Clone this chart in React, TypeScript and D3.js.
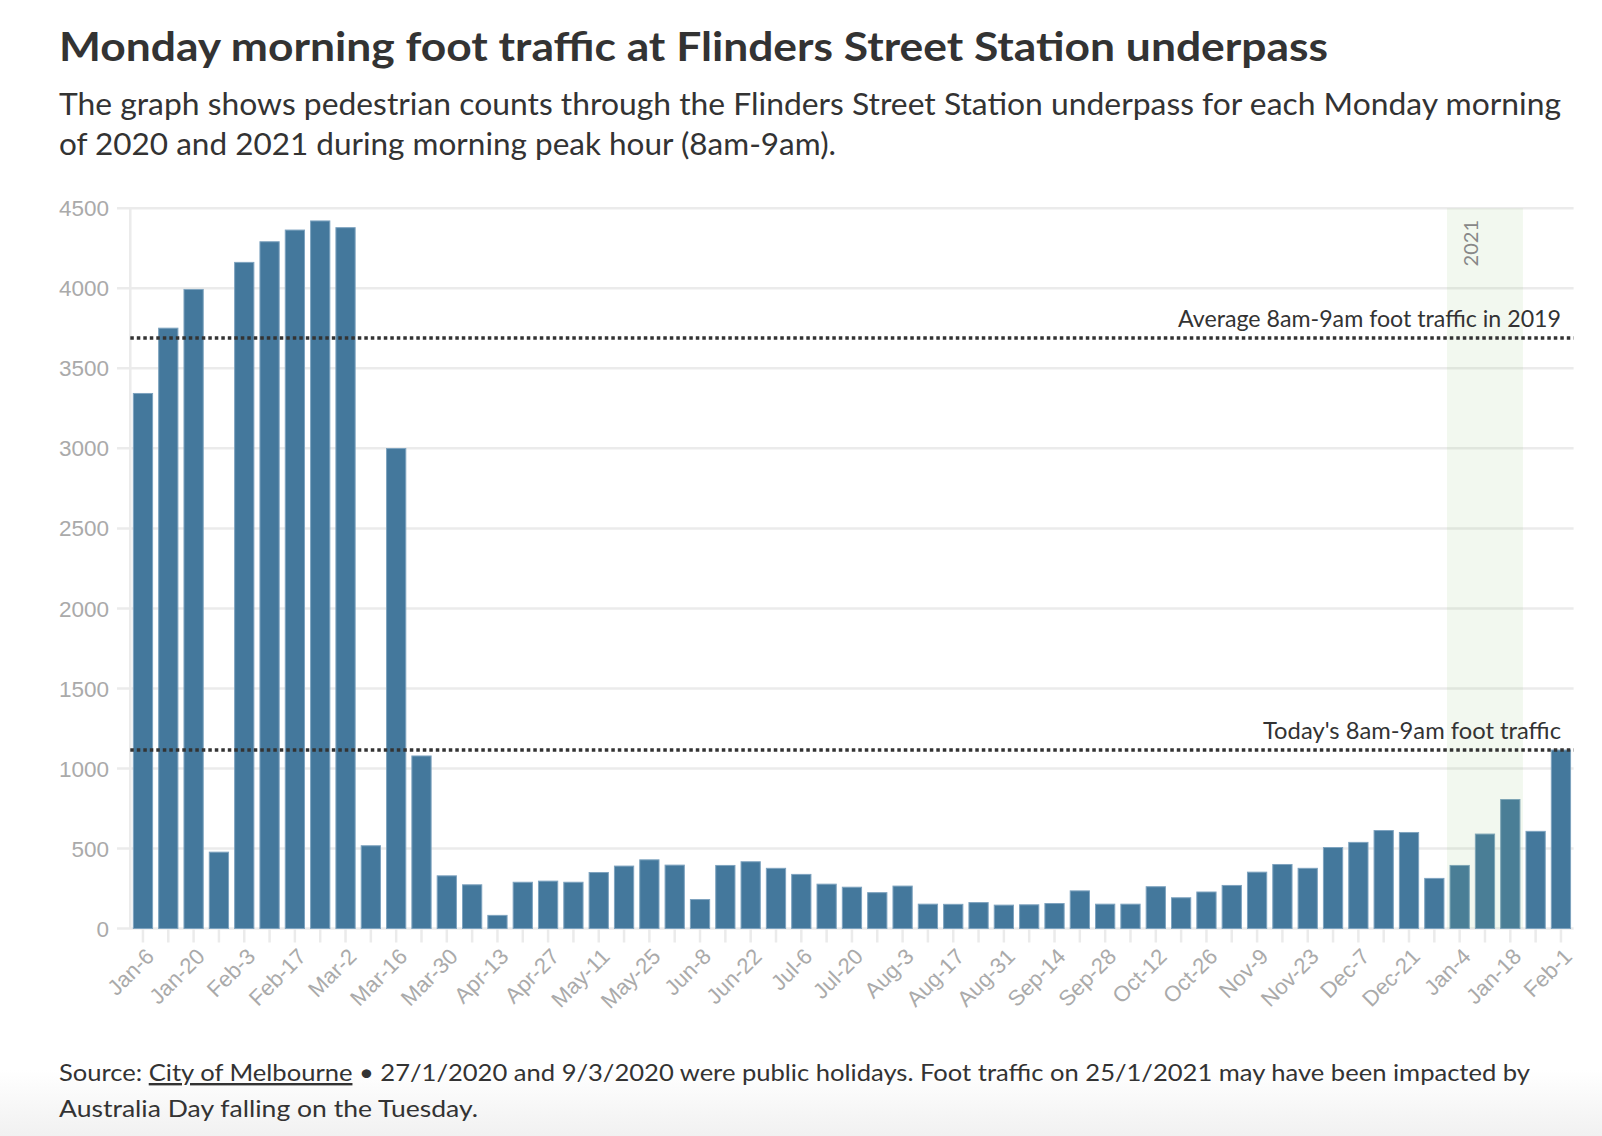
import React from "react";
import * as d3 from "d3";

const weeks = [
  "Jan-6","Jan-13","Jan-20","Jan-27","Feb-3","Feb-10","Feb-17","Feb-24","Mar-2","Mar-9",
  "Mar-16","Mar-23","Mar-30","Apr-6","Apr-13","Apr-20","Apr-27","May-4","May-11","May-18",
  "May-25","Jun-1","Jun-8","Jun-15","Jun-22","Jun-29","Jul-6","Jul-13","Jul-20","Jul-27",
  "Aug-3","Aug-10","Aug-17","Aug-24","Aug-31","Sep-7","Sep-14","Sep-21","Sep-28","Oct-5",
  "Oct-12","Oct-19","Oct-26","Nov-2","Nov-9","Nov-16","Nov-23","Nov-30","Dec-7","Dec-14",
  "Dec-21","Dec-28","Jan-4","Jan-11","Jan-18","Jan-25","Feb-1"
];
const counts = [
  3343,3751,3993,477,4162,4291,4364,4421,4379,517,
  2999,1078,329,273,82,289,296,289,350,390,
  429,396,181,394,417,376,338,277,258,224,
  265,152,151,162,146,148,156,235,152,152,
  261,192,228,269,352,400,376,506,538,612,
  600,313,394,590,806,607,1115
];
const yTicks = [0, 500, 1000, 1500, 2000, 2500, 3000, 3500, 4000, 4500];
const highlightWeeks = ["Jan-4", "Jan-18"];
const avg2019 = 3690;
const today = 1115;

const W = 1602, H = 1136;

export default function App() {
  const x = d3.scaleBand<string>().domain(weeks).range([130.3, 1573.6]).paddingInner(0.24).paddingOuter(0.12);
  const y = d3.scaleLinear().domain([0, 4500]).range([928.5, 208.3]);
  const x0 = 130.3, x1 = 1573.6;
  const hlX0 = (x(highlightWeeks[0]) as number) - x.step() * x.paddingInner() / 2;
  const hlX1 = (x(highlightWeeks[1]) as number) + x.bandwidth() + x.step() * x.paddingInner() / 2;
  const tickFont = "'Liberation Sans', Arial, sans-serif";
  const textFont = "Lato, 'Open Sans', sans-serif";
  return (
    <svg width={W} height={H} style={{ position: "absolute", left: 0, top: 0, background: "#fff" }}>
      <defs>
        <linearGradient id="bottomFade" x1="0" y1="0" x2="0" y2="1">
          <stop offset="0" stopColor="#ffffff" />
          <stop offset="1" stopColor="#f1f1f1" />
        </linearGradient>
      </defs>
      <rect x={0} y={0} width={W} height={H} fill="#fff" />
      <rect x={0} y={1070} width={W} height={66} fill="url(#bottomFade)" />

      <text x={59} y={61} fontFamily={textFont} fontWeight={700} fontSize={40} fill="#333"
        textLength={1269} lengthAdjust="spacingAndGlyphs">
        Monday morning foot traffic at Flinders Street Station underpass
      </text>
      <text x={59} y={115} fontFamily={textFont} fontSize={30} fill="#333"
        textLength={1502} lengthAdjust="spacingAndGlyphs">
        The graph shows pedestrian counts through the Flinders Street Station underpass for each Monday morning
      </text>
      <text x={59} y={155} fontFamily={textFont} fontSize={30} fill="#333"
        textLength={777} lengthAdjust="spacingAndGlyphs">
        of 2020 and 2021 during morning peak hour (8am-9am).
      </text>

      {/* gridlines */}
      {yTicks.map((t) => (
        <line key={"g" + t} x1={117} x2={x1} y1={y(t)} y2={y(t)} stroke="#ebebeb" strokeWidth={2.5} />
      ))}
      <line x1={x0} x2={x0} y1={y(4500)} y2={y(0)} stroke="#ebebeb" strokeWidth={2.5} />
      {yTicks.map((t) => (
        <text key={"yl" + t} x={109} y={y(t)} dy="0.36em" textAnchor="end" fontFamily={tickFont}
          fontSize={22.5} fill="#aaa">{t}</text>
      ))}

      {/* x ticks */}
      {weeks.map((w) => {
        const cx = (x(w) as number) + x.bandwidth() / 2;
        return <line key={"t" + w} x1={cx} x2={cx} y1={y(0)} y2={y(0) + 14} stroke="#ebebeb" strokeWidth={2.5} />;
      })}
      {weeks.map((w, i) => {
        if (i % 2 !== 0) return null;
        const cx = (x(w) as number) + x.bandwidth() / 2;
        return (
          <text key={"xl" + w} transform={`translate(${cx + 7},${y(0) + 24}) rotate(-45)`} textAnchor="end"
            dy="0.35em" fontFamily={tickFont} fontSize={22} fill="#aaa">{w}</text>
        );
      })}

      {/* bars */}
      {weeks.map((w, i) => (
        <rect key={"b" + w} x={x(w)} y={y(counts[i])} width={x.bandwidth()} height={y(0) - y(counts[i])}
          fill="#44789c" stroke="#7ea3bf" strokeWidth={1} />
      ))}

      {/* 2021 highlight */}
      <rect x={hlX0} y={y(4500)} width={hlX1 - hlX0} height={y(0) - y(4500)} fill="#7cbf5e" fillOpacity={0.1} />
      <text transform={`translate(${hlX0 + 24},${220}) rotate(-90)`} textAnchor="end" dy="0.35em"
        fontFamily={textFont} fontSize={20} fill="#888">2021</text>

      {/* reference lines */}
      <line x1={x0} x2={x1} y1={y(avg2019)} y2={y(avg2019)} stroke="#333" strokeWidth={3.5} strokeDasharray="3.5 3" />
      <text x={1561} y={y(avg2019) - 11} textAnchor="end" fontFamily={textFont} fontSize={23} fill="#333"
        textLength={383} lengthAdjust="spacingAndGlyphs">
        Average 8am-9am foot traffic in 2019
      </text>
      <line x1={x0} x2={x1} y1={y(today)} y2={y(today)} stroke="#333" strokeWidth={3.5} strokeDasharray="3.5 3" />
      <text x={1561} y={y(today) - 11} textAnchor="end" fontFamily={textFont} fontSize={23} fill="#333"
        textLength={298} lengthAdjust="spacingAndGlyphs">
        Today's 8am-9am foot traffic
      </text>

      {/* footnote */}
      <text x={59} y={1081} fontFamily={textFont} fontSize={24} fill="#333" textLength={1471} lengthAdjust="spacingAndGlyphs">
        Source: <tspan style={{ textDecoration: "underline" }}>City of Melbourne</tspan> • 27/1/2020 and 9/3/2020 were public holidays. Foot traffic on 25/1/2021 may have been impacted by
      </text>
      <text x={59} y={1117} fontFamily={textFont} fontSize={24} fill="#333" textLength={419} lengthAdjust="spacingAndGlyphs">
        Australia Day falling on the Tuesday.
      </text>
    </svg>
  );
}
